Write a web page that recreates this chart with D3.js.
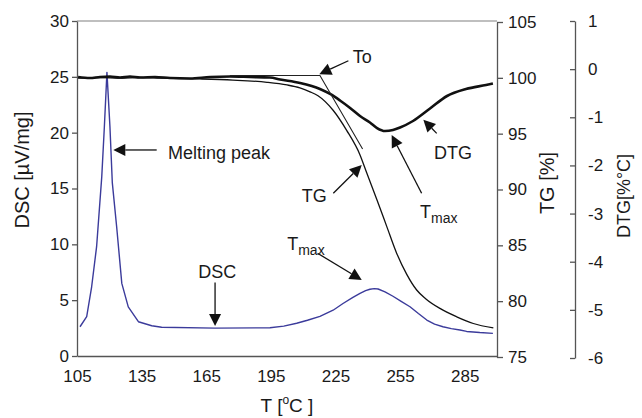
<!DOCTYPE html>
<html><head><meta charset="utf-8">
<script src="https://cdn.jsdelivr.net/npm/d3@7"></script>
<style>
body{margin:0;background:#fff}
svg{display:block}
text{font-family:"Liberation Sans",Arial,sans-serif;fill:#1a1a1a}
</style>
</head><body>
<svg id="c" width="642" height="418"></svg>
<script>
// ---- data ----
const xTicks = [105,135,165,195,225,255,285];
const dscTicks = [0,5,10,15,20,25,30];
const tgTicks = [75,80,85,90,95,100,105];
const dtgTicks = [1,0,-1,-2,-3,-4,-5,-6];

const dscT = [106.4,109.5,111.8,114.1,116.5,117.7,118.9,120.3,121.4,123.4,125.8,128.8,133.5,139.7,144.3,169.1,194.6,201,207,212,217.8,223.9,228.5,233.1,236.4,239,241,243,244.8,248,251.7,255.5,259.6,263.5,267.4,271,274.9,278.8,282.8,285.9,292,298.1];
const dscV = [2.62,3.52,6.2,9.79,16.06,20.5,25.4,20.5,15.5,11.6,6.5,4.4,3.07,2.71,2.57,2.5,2.53,2.68,2.93,3.2,3.55,4.1,4.7,5.25,5.6,5.85,5.98,6.03,6.0,5.75,5.35,4.9,4.41,3.8,3.22,2.85,2.62,2.45,2.33,2.2,2.1,2.03];

const tgT = [105.5,115.7,125.0,134.3,143.6,152.9,162.1,177.4,193.2,202.5,208.5,213.2,216.9,223.9,230.2,236.4,239.5,244.2,248.8,253.4,258.1,262.7,267.0,273.5,281.3,289.0,298.3];
const tgV = [99.98,100.03,99.98,100.03,99.98,99.94,99.9,99.8,99.6,99.36,99.1,98.75,98.4,97.1,95.3,93.1,91.5,89.1,86.7,84.3,82.4,81.0,80.2,79.35,78.6,78.0,77.6];

const dtgT = [105.5,111.0,115.7,120.3,125.0,129.6,134.3,141.2,148.2,157.5,166.8,176.0,185.3,194.6,199.3,208.5,217.8,222.5,227.1,231.8,236.4,241.0,244.3,248.0,251.7,255.0,261.0,268.9,276.8,285.6,294.9,298.1];
const dtgV = [-0.163,-0.184,-0.163,-0.153,-0.174,-0.153,-0.174,-0.163,-0.184,-0.194,-0.163,-0.153,-0.163,-0.174,-0.215,-0.288,-0.413,-0.516,-0.651,-0.806,-0.973,-1.108,-1.223,-1.285,-1.264,-1.212,-1.077,-0.818,-0.558,-0.413,-0.329,-0.298];

// onset tangent construction (T, TG)
const tangentT = [176.0,217.8,237.6];
const tangentV = [100.21,100.21,93.63];

// annotation arrows: [tailT, tailDSC, tipT, tipDSC]
const arrows = [
  [142.0,18.45,121.85,18.45],
  [231.0,26.44,217.5,25.23],
  [224.0,14.57,237.2,17.10],
  [265.0,14.57,251.1,19.79],
  [272.0,19.94,265.8,21.16],
  [216.7,9.20,237.2,6.81],
  [169.1,6.58,169.1,2.69]
];
// annotation labels: [text, subscript, T, DSC]
const labels = [
  ["Melting peak","",147.25,17.66],
  ["To","",233.0,26.25],
  ["TG","",209.3,13.78],
  ["DTG","",270.75,17.65],
  ["T","max",264.25,12.36],
  ["T","max",202.6,9.53],
  ["DSC","",161.3,6.98]
];

// ---- scales ----
const svg = d3.select("#c");
const x = d3.scaleLinear().domain([105,300]).range([77,497]);
const yDSC = d3.scaleLinear().domain([0,30]).range([356,21]);
const yTG = d3.scaleLinear().domain([75,105]).range([357,22]);
const yDTG = d3.scaleLinear().domain([-6,1]).range([358,21]);

const axisColor = "#555";

// top border
svg.append("line").attr("x1",x(105)).attr("x2",x(300)).attr("y1",yDSC(30)).attr("y2",yDSC(30))
  .attr("stroke","#aaa").attr("stroke-width",1.3);

function styleAxis(g, fs){
  g.selectAll("path,line").attr("stroke",axisColor).attr("stroke-width",1.3);
  g.selectAll("text").attr("font-size",fs).attr("fill","#1a1a1a").attr("font-family",'"Liberation Sans",Arial,sans-serif');
}

const gx = svg.append("g").attr("transform",`translate(0,${yDSC(0)})`)
  .call(d3.axisBottom(x).tickValues(xTicks).tickSize(0).tickPadding(14).tickFormat(d3.format("d")));
styleAxis(gx,17);

const gl = svg.append("g").attr("transform",`translate(${x(105)},0)`)
  .call(d3.axisLeft(yDSC).tickValues(dscTicks).tickSizeInner(5).tickSizeOuter(0).tickPadding(3));
styleAxis(gl,17);

const gr = svg.append("g").attr("transform",`translate(${x(300)},0)`)
  .call(d3.axisRight(yTG).tickValues(tgTicks).tickSizeInner(6).tickSizeOuter(0).tickPadding(5));
styleAxis(gr,17);

const gd = svg.append("g").attr("transform",`translate(575,0)`)
  .call(d3.axisRight(yDTG).tickValues(dtgTicks).tickSizeInner(-5).tickSizeOuter(0).tickPadding(13).tickFormat(d3.format("d")));
styleAxis(gd,17);
gd.selectAll("text").text(d => d < 0 ? "-" + Math.abs(d) : d);

// axis titles
svg.append("text").attr("transform","translate(29,170) rotate(-90)").attr("text-anchor","middle")
  .attr("font-size",20).text("DSC [µV/mg]");
svg.append("text").attr("transform","translate(554,183) rotate(-90)").attr("text-anchor","middle")
  .attr("font-size",20).text("TG [%]");
svg.append("text").attr("transform","translate(630,196) rotate(-90)").attr("text-anchor","middle")
  .attr("font-size",18).text("DTG[%°C]");
const xt = svg.append("text").attr("x",287).attr("y",412).attr("text-anchor","middle").attr("font-size",19);
xt.append("tspan").text("T [");
xt.append("tspan").attr("dy",-8).attr("font-size",12).text("o");
xt.append("tspan").attr("dy",8).text("C ]");

// ---- curves ----
const dscLine = d3.line().x((d,i)=>x(dscT[i])).y((d,i)=>yDSC(dscV[i]));
svg.append("path").attr("d",dscLine(dscT)).attr("fill","none").attr("stroke","#3b3b9b").attr("stroke-width",1.4).attr("stroke-linejoin","round");

const tgLine = d3.line().x((d,i)=>x(tgT[i])).y((d,i)=>yTG(tgV[i])).curve(d3.curveMonotoneX);
svg.append("path").attr("d",tgLine(tgT)).attr("fill","none").attr("stroke","#111").attr("stroke-width",1.3);

const dtgLine = d3.line().x((d,i)=>x(dtgT[i])).y((d,i)=>yDTG(dtgV[i])).curve(d3.curveMonotoneX);
svg.append("path").attr("d",dtgLine(dtgT)).attr("fill","none").attr("stroke","#111").attr("stroke-width",2.6);

const tanLine = d3.line().x((d,i)=>x(tangentT[i])).y((d,i)=>yTG(tangentV[i]));
svg.append("path").attr("d",tanLine(tangentT)).attr("fill","none").attr("stroke","#222").attr("stroke-width",1.1);

// ---- annotations ----
arrows.forEach(a=>{
  const x1=x(a[0]), y1=yDSC(a[1]), x2=x(a[2]), y2=yDSC(a[3]);
  const ang=Math.atan2(y2-y1,x2-x1), L=12, W=6;
  const bx=x2-L*Math.cos(ang), by=y2-L*Math.sin(ang);
  svg.append("line").attr("x1",x1).attr("y1",y1).attr("x2",bx).attr("y2",by).attr("stroke","#111").attr("stroke-width",1.3);
  const px=-Math.sin(ang)*W, py=Math.cos(ang)*W;
  svg.append("path").attr("d",`M${x2},${y2}L${bx+px},${by+py}L${bx-px},${by-py}Z`).attr("fill","#111");
});
labels.forEach(l=>{
  const t = svg.append("text").attr("x",x(l[2])).attr("y",yDSC(l[3])).attr("font-size",18);
  t.append("tspan").text(l[0]);
  if(l[1]) t.append("tspan").attr("dy",5).attr("font-size",14).text(l[1]);
});
</script>
</body></html>
